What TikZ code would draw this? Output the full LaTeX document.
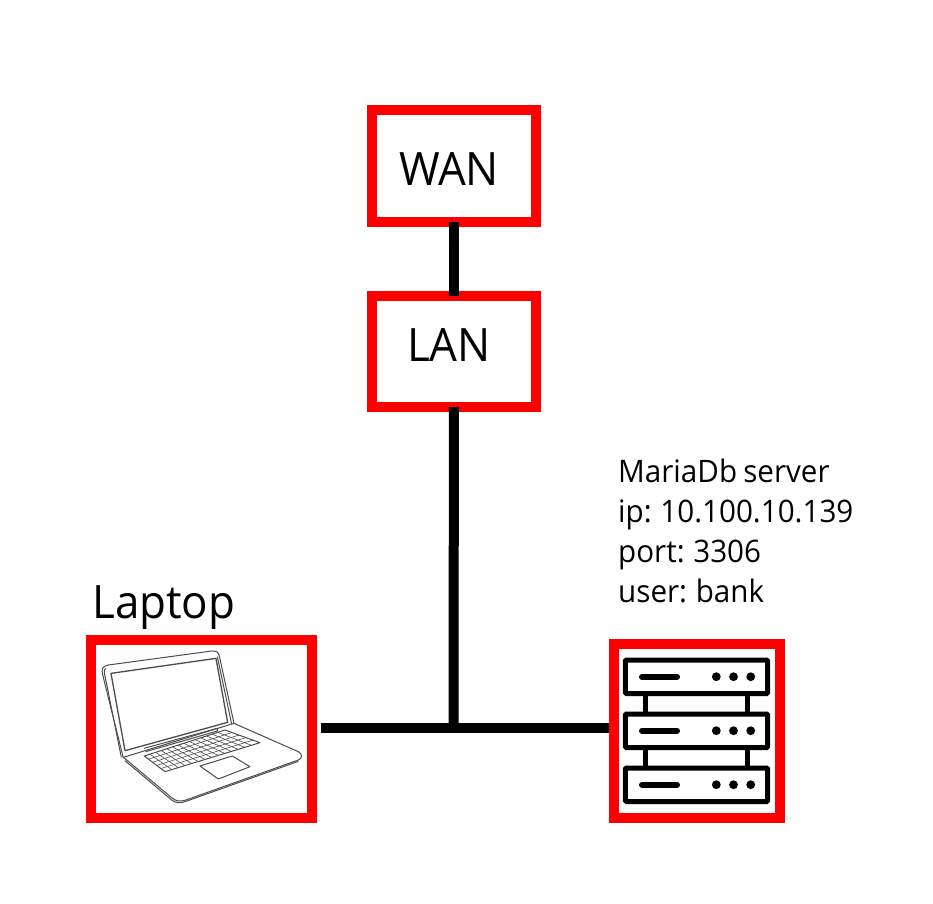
\documentclass[tikz,border=0pt]{standalone}
\usepackage{fontspec}
\usetikzlibrary{calc}
\setmainfont[FakeStretch=0.955,WordSpace=0.8]{Open Sans}
\tikzset{every picture/.style={x=1pt,y=-1pt}}
\definecolor{boxred}{RGB}{255,0,0}
\tikzstyle{net_box} =
  [ rectangle
  , draw=boxred
  , line width=10pt
  , outer sep=0pt
  , inner sep=0pt
  , text=black
  ]
\tikzstyle{net_line} =
  [ line width=10pt
  , black
  ]
\tikzstyle{laptop_line} =
  [ line width=1pt
  , draw=black!70
  , line join=round
  ]
\def\NetLabel#1{\fontsize{46}{46}\selectfont #1}
\begin{document}
\begin{tikzpicture}
    \useasboundingbox (0,0) rectangle (933,903);

    \node[net_box,minimum width=164pt,minimum height=112pt] (WAN)    at (454,166)   {};
    \node[net_box,minimum width=164pt,minimum height=111pt] (LAN)    at (454,351.5) {};
    \node[net_box,minimum width=221pt,minimum height=178pt] (Laptop) at (201.5,729) {};
    \node[net_box,minimum width=166pt,minimum height=174pt] (Server) at (697,731)   {};
    \coordinate (junction) at (453.5,728);

    \node[anchor=base] (WANlabel)    at (449,185) {\NetLabel{WAN}};
    \node[anchor=base] (LANlabel)    at (449,361) {\NetLabel{LAN}};
    \node[anchor=base west,inner sep=0pt] (LaptopLabel) at (92,618) {\NetLabel{Laptop}};
    \node[anchor=base west,inner sep=0pt,align=left,font=\fontsize{31}{40}\selectfont] (ServerLabel) at (618,602)
      {MariaDb server\\ip: 10.100.10.139\\port: 3306\\user: bank};

    \draw[net_line] (WAN) -- (LAN);
    \draw[net_line] (LAN) -- (junction);
    \draw[net_line,shorten <=9pt] (Laptop.east |- junction) -- (junction);
    \draw[net_line,shorten >=5pt] (junction) -- (Server.west |- junction);

    % server racks
    \foreach \y in {0,54,108} {
      \draw[line width=5pt,rounded corners=1pt] (625.3,660+\y) rectangle (767.5,693.5+\y);
      \draw[line width=6pt,line cap=round] (642,676.7+\y) -- (677,676.7+\y);
      \foreach \x in {716.3,733.5,750.7}
        \fill (\x,676.7+\y) circle (4.4pt);
    }
    \foreach \y in {0,54}
      \foreach \x in {645.7,747.7}
        \draw[line width=5pt] (\x,693.5+\y) -- (\x,714+\y);

    % laptop, coordinates read off a 3x crop
    \begin{scope}[shift={(80,630)},x=0.3333pt,y=-0.3333pt]
      \draw[laptop_line] (130,384) -- (67,130) .. controls (64,114) and (70,108) .. (85,105) -- (395,63)
        .. controls (410,61) and (416,68) .. (418,78) -- (462,280);
      \draw[laptop_line] (124,382) -- (73,128) .. controls (72,122) and (73,118) .. (77,115);
      \draw[laptop_line] (412,80) -- (455,282);
      \draw[laptop_line,line width=1.3pt] (93,130) -- (408,85) -- (443,277) -- (135,362) -- cycle;
      \draw[laptop_line] (192,355) -- (412,295) -- (412,303) -- (197,365);
      \draw[laptop_line] (130,382) -- (462,280) -- (655,365) .. controls (668,372) and (668,385) .. (655,390)
        -- (318,510) .. controls (300,516) and (288,514) .. (275,503) -- (140,390) -- cycle;
      \draw[laptop_line] (135,392) -- (275,510) .. controls (288,520) and (300,520) .. (318,514) -- (655,394);
      \draw[laptop_line] (193,378) -- (435,300) -- (540,338) -- (255,425) -- cycle;
      \foreach \t in {0.2,0.4,0.6,0.8}
        \draw[laptop_line,line width=0.6pt] ($(193,378)!\t!(255,425)$) -- ($(435,300)!\t!(540,338)$);
      \foreach \t in {0.07,0.14,...,0.95}
        \draw[laptop_line,line width=0.6pt] ($(193,378)!\t!(435,300)$) -- ($(255,425)!\t!(540,338)$);
      \draw[laptop_line] (360,408) -- (457,378) -- (510,410) -- (415,447) -- cycle;
    \end{scope}
\end{tikzpicture}
\end{document}
